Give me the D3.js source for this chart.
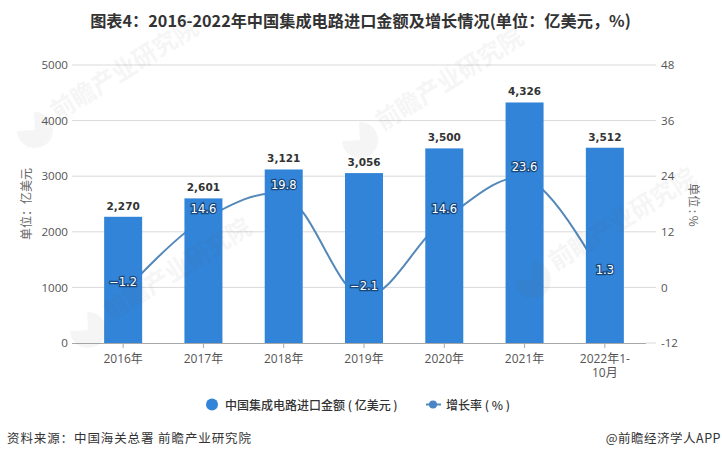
<!DOCTYPE html>
<html>
<head>
<meta charset="utf-8">
<script src="https://cdn.jsdelivr.net/npm/d3@7"></script>
<style>
html, body { margin: 0; padding: 0; background: #fff; }
text { font-family: "Noto Sans CJK SC", "Noto Sans", sans-serif; }
</style>
</head>
<body>
<div id="chart"></div>
<script>
const categories = ["2016年", "2017年", "2018年", "2019年", "2020年", "2021年", "2022年1-\n10月"];
const imports = [2270, 2601, 3121, 3056, 3500, 4326, 3512];
const growth = [-1.2, 14.6, 19.8, -2.1, 14.6, 23.6, 1.3];
const leftTicks = [0, 1000, 2000, 3000, 4000, 5000];
const rightTicks = [-12, 0, 12, 24, 36, 48];
const TITLE = "图表4：2016-2022年中国集成电路进口金额及增长情况(单位：亿美元，%)";
const BAR_COLOR = "#3284d8";
const LINE_COLOR = "#5488b8";

const WIDTH = 722, HEIGHT = 459;
const PLOT = { LEFT: 72, RIGHT: 656, TOP: 65, BOTTOM: 343 };

const svg = d3.select("#chart").append("svg")
    .attr("width", WIDTH)
    .attr("height", HEIGHT)
    .style("display", "block");

const x = d3.scaleBand().domain(categories).range([83, 645]);
const y = d3.scaleLinear().domain([0, 5000]).range([PLOT.BOTTOM, PLOT.TOP]);
const y2 = d3.scaleLinear().domain([-12, 48]).range([PLOT.BOTTOM, PLOT.TOP]);
const cx = d => x(d) + x.bandwidth() / 2;
const barW = 38;

svg.append("text")
    .attr("x", 360.5).attr("y", 27)
    .attr("text-anchor", "middle")
    .attr("font-size", 16.2)
    .attr("font-weight", 700)
    .attr("fill", "#333")
    .text(TITLE);

// grid
svg.append("g").selectAll("line")
    .data(leftTicks.slice(1))
    .join("line")
    .attr("x1", PLOT.LEFT).attr("x2", PLOT.RIGHT)
    .attr("y1", d => y(d)).attr("y2", d => y(d))
    .attr("stroke", "#d9d9d9");

svg.append("line")
    .attr("x1", 646).attr("x2", PLOT.RIGHT)
    .attr("y1", PLOT.BOTTOM).attr("y2", PLOT.BOTTOM)
    .attr("stroke", "#d9d9d9");

// axes
const yAxis = svg.append("g")
    .attr("transform", `translate(${PLOT.LEFT},0)`)
    .call(d3.axisLeft(y).tickValues(leftTicks).tickSize(0).tickPadding(4).tickFormat(d => String(d)));
const yAxis2 = svg.append("g")
    .attr("transform", `translate(${PLOT.RIGHT},0)`)
    .call(d3.axisRight(y2).tickValues(rightTicks).tickSize(0).tickPadding(5).tickFormat(d => String(d)));
[yAxis, yAxis2].forEach(g => {
    g.select(".domain").remove();
    g.selectAll("text")
        .attr("font-size", 11.6)
        .attr("fill", "#555")
        .style("font-family", '"Open Sans", sans-serif');
});

const xAxis = svg.append("g")
    .attr("transform", `translate(0,${PLOT.BOTTOM})`)
    .call(d3.axisBottom(x).tickSize(5).tickPadding(3).tickFormat(""));
xAxis.select(".domain").attr("stroke", "#a8a8a8").attr("d", `M${PLOT.LEFT},0.5H646`);
xAxis.selectAll("line").attr("stroke", "#a8a8a8");
xAxis.selectAll(".tick").select("text").each(function (d) {
    const label = d3.select(this)
        .attr("font-size", 12)
        .attr("fill", "#555")
        .attr("dy", 0)
        .style("font-family", '"Open Sans", "Noto Sans CJK SC", sans-serif');
    d.split("\n").forEach((part, i) => {
        label.append("tspan")
            .attr("x", 0)
            .attr("y", 20 + i * 14)
            .text(part);
    });
});

// line sits behind the bars
const line = d3.line()
    .x((d, i) => cx(categories[i]))
    .y(d => y2(d))
    .curve(d3.curveCatmullRom.alpha(0.5));

svg.append("path")
    .datum(growth)
    .attr("d", line)
    .attr("fill", "none")
    .attr("stroke", LINE_COLOR)
    .attr("stroke-width", 2);

svg.append("g").selectAll("rect")
    .data(imports)
    .join("rect")
    .attr("x", (d, i) => cx(categories[i]) - barW / 2)
    .attr("y", d => y(d))
    .attr("width", barW)
    .attr("height", d => y(0) - y(d))
    .attr("fill", BAR_COLOR);

// bar labels
svg.append("g").selectAll("text")
    .data(imports)
    .join("text")
    .attr("x", (d, i) => cx(categories[i]))
    .attr("y", d => y(d) - 7)
    .attr("text-anchor", "middle")
    .attr("font-size", 10.5)
    .attr("font-weight", 700)
    .attr("fill", "#333")
    .style("font-family", '"DejaVu Sans", sans-serif')
    .text(d3.format(","));

// growth labels
svg.append("g").selectAll("text")
    .data(growth)
    .join("text")
    .attr("x", (d, i) => cx(categories[i]))
    .attr("y", d => y2(d) - 7)
    .attr("text-anchor", "middle")
    .attr("font-size", 11.5)
    .attr("fill", "#fff")
    .attr("stroke", "#17477c")
    .attr("stroke-width", 2.4)
    .attr("paint-order", "stroke")
    .style("font-family", '"DejaVu Sans", sans-serif')
    .text(d => String(d).replace("-", "−"));

// axis titles
svg.append("text")
    .attr("transform", "translate(31,204) rotate(-90)")
    .attr("text-anchor", "middle")
    .attr("font-size", 12)
    .attr("fill", "#666")
    .text("单位：亿美元");
svg.append("text")
    .attr("transform", "translate(689,205) rotate(90)")
    .attr("text-anchor", "middle")
    .attr("font-size", 12)
    .attr("fill", "#666")
    .text("单位 : %");

// legend
svg.append("circle").attr("cx", 212).attr("cy", 404.5).attr("r", 6).attr("fill", BAR_COLOR);
svg.append("text")
    .attr("x", 225).attr("y", 409.5)
    .attr("font-size", 12)
    .attr("font-weight", 500)
    .attr("fill", "#333")
    .text("中国集成电路进口金额 ( 亿美元 )");
svg.append("line")
    .attr("x1", 426).attr("x2", 441).attr("y1", 404.5).attr("y2", 404.5)
    .attr("stroke", LINE_COLOR).attr("stroke-width", 2);
svg.append("circle").attr("cx", 433).attr("cy", 404.5).attr("r", 4).attr("fill", "#4a86c5");
svg.append("text")
    .attr("x", 446).attr("y", 409.5)
    .attr("font-size", 12)
    .attr("font-weight", 500)
    .attr("fill", "#333")
    .text("增长率 ( % )");

// footer
svg.append("text")
    .attr("x", 7).attr("y", 443)
    .attr("font-size", 12.5)
    .attr("letter-spacing", 0.9)
    .attr("fill", "#333")
    .text("资料来源：中国海关总署 前瞻产业研究院");
svg.append("text")
    .attr("x", 721).attr("y", 443)
    .attr("text-anchor", "end")
    .attr("font-size", 12.5)
    .attr("letter-spacing", 0.5)
    .attr("fill", "#333")
    .text("@前瞻经济学人APP");

// watermarks
const marks = svg.append("g").attr("opacity", 0.06).selectAll("g")
    .data([[35, 130], [360, 140], [88, 330], [533, 280]])
    .join("g")
    .attr("transform", d => `translate(${d[0]},${d[1]}) rotate(-32)`);
marks.append("path")
    .attr("d", d3.arc()({ innerRadius: 0, outerRadius: 18, startAngle: 0.5, endAngle: 5.2 }))
    .attr("fill", "#555");
marks.append("text")
    .attr("x", 24).attr("y", 4)
    .attr("font-size", 24)
    .attr("font-weight", 700)
    .attr("fill", "#555")
    .text("前瞻产业研究院");
</script>
</body>
</html>
